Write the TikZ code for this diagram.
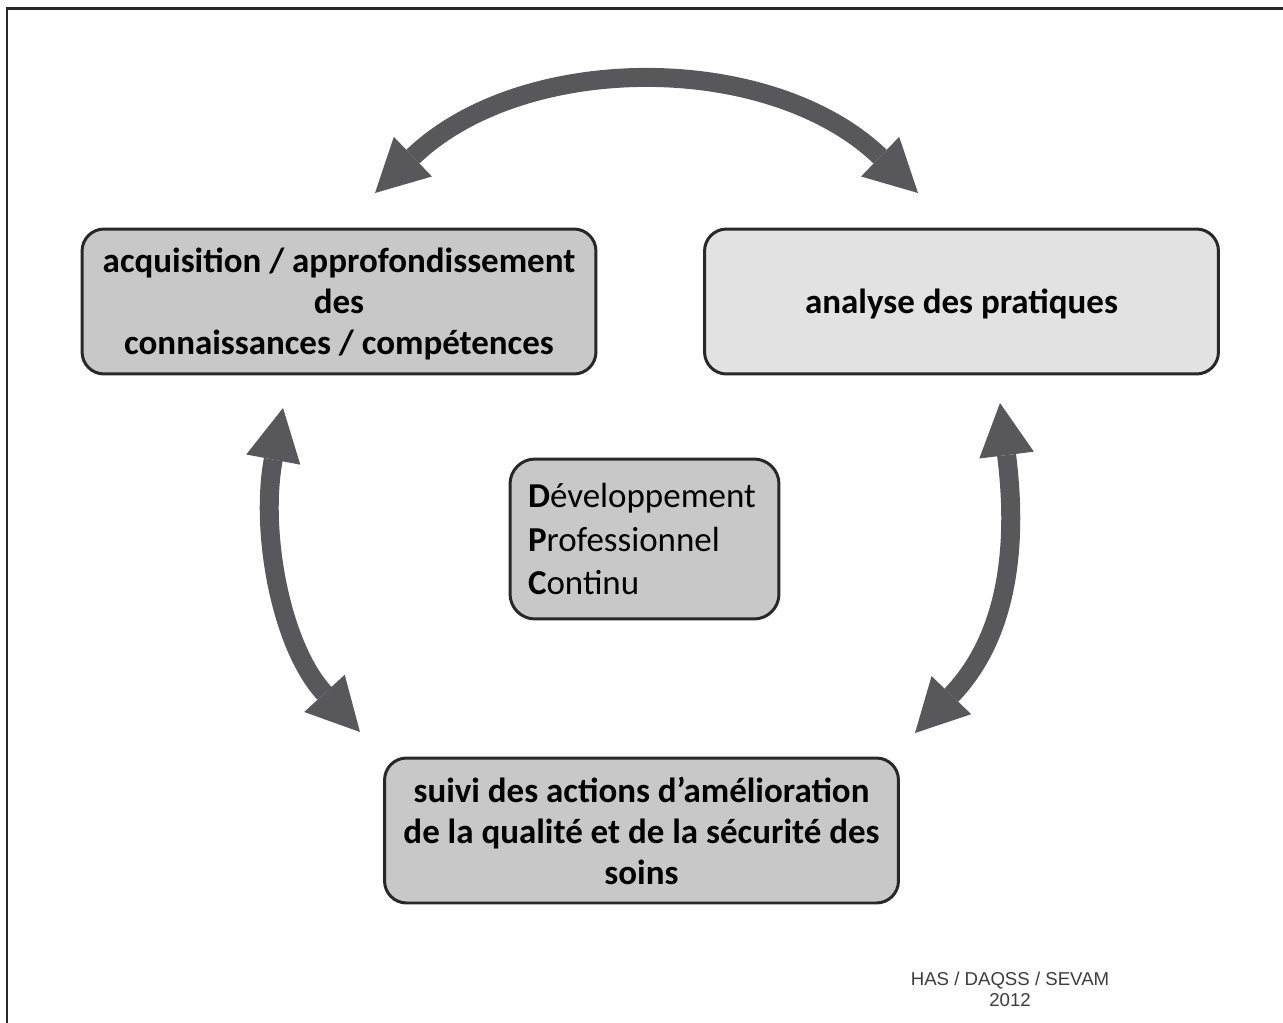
\documentclass[tikz,border=0pt]{standalone}
\usepackage{fontspec}
\setmainfont{Carlito}
\newfontfamily\footfont{Liberation Sans}
\usetikzlibrary{arrows.meta}

\definecolor{boxgray}{RGB}{200,200,200}
\definecolor{boxlight}{RGB}{226,226,226}
\definecolor{edgegray}{RGB}{40,40,40}
\definecolor{arrowgray}{RGB}{88,88,90}

\tikzset{
	box/.style={draw=edgegray, line width=1.7pt, rounded corners=0.44cm, fill=boxgray,
		minimum width=10.28cm, minimum height=2.9cm, align=center,
		font=\fontsize{19.9}{23.3}\selectfont\bfseries},
	loop/.style={draw=arrowgray, line width=0.38cm,
		{Triangle[length=1.05cm,width=1.1cm,line width=0pt]}-{Triangle[length=1.05cm,width=1.1cm,line width=0pt]}},
}

\begin{document}
\begin{tikzpicture}[x=0.02cm, y=-0.02cm]
	\fill[white] (0,0) rectangle (1283,1023);
	\useasboundingbox (0,0) rectangle (1283,1023);
	\draw[edgegray, line width=0.06cm] (7,1030) -- (7,9) -- (1290,9);

	% the four boxes
	\node[box, text depth=0pt] (acquis) at (339,301.5) {acquisition / approfondissement\\des\\connaissances / compétences};
	\node[box, text depth=0pt, fill=boxlight] (analyse) at (961.5,301.5) {analyse des pratiques};
	\node[box] (suivi) at (641.5,830.5) {suivi des actions d’amélioration\\de la qualité et de la sécurité des\\soins};
	\node[box, rounded corners=0.5cm, minimum width=5.38cm, minimum height=3.2cm,
		text width=4.66cm, align=left, font=\fontsize{19.9}{24.5}\selectfont] (dpc) at (644.5,539)
		{\textbf{D}éveloppement\\\textbf{P}rofessionnel\\\textbf{C}ontinu};

	% ends of the arrows
	\coordinate (t1) at (375,193);
	\coordinate (t2) at (918,193);
	\coordinate (l1) at (283,408);
	\coordinate (l2) at (360,732);
	\coordinate (r1) at (1000,403);
	\coordinate (r2) at (915,733);

	\draw[loop] (t1) .. controls (523,51) and (770,51) .. (t2);
	\draw[loop] (l1) .. controls (260,530) and (280,645) .. (l2);
	\draw[loop] (r1) .. controls (1016,530) and (1014,630) .. (r2);

	\node[font=\footfont\fontsize{10.6}{12}\selectfont, text=edgegray!90, align=center] (has) at (1010,989)
		{HAS / DAQSS / SEVAM\\2012};
\end{tikzpicture}
\end{document}
